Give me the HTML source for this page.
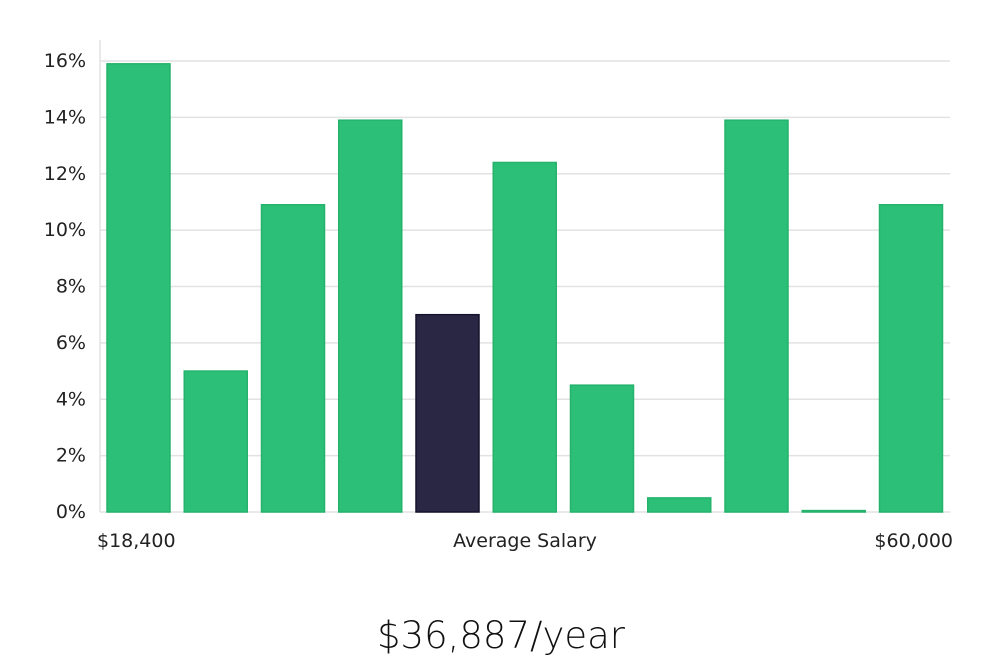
<!DOCTYPE html>
<html><head><meta charset="utf-8"><style>
body{margin:0;background:#fff;width:1000px;height:660px;overflow:hidden;font-family:"Liberation Sans","DejaVu Sans",sans-serif;}
svg text{font-family:"DejaVu Sans","Liberation Sans",sans-serif;}
</style></head><body>
<svg id="chart" width="1000" height="660" viewBox="0 0 1000 660" xmlns="http://www.w3.org/2000/svg"></svg>
<script>
const categories = ["b1","b2","b3","b4","b5","b6","b7","b8","b9","b10","b11"];
const values = [15.9, 5.0, 10.9, 13.9, 7.0, 12.4, 4.5, 0.5, 13.9, 0.05, 10.9];
const highlight = [false,false,false,false,true,false,false,false,false,false,false];
const yTicks = [0,2,4,6,8,10,12,14,16];
const yTickLabels = ["0%","2%","4%","6%","8%","10%","12%","14%","16%"];

const NS="http://www.w3.org/2000/svg";
const svg=document.getElementById('chart');
const y0=512, pxPerUnit=(512-61)/16;
function yScale(v){return y0 - v*pxPerUnit;}
function xScale(i){return 107 + i*77.25;}
const barW=63;
function mk(tag,attrs){const e=document.createElementNS(NS,tag);for(const k in attrs)e.setAttribute(k,attrs[k]);svg.appendChild(e);return e;}

const ax=mk('line',{x1:100,y1:40,x2:100,y2:512,stroke:'#e2e2e2','stroke-width':1.5});


yTicks.forEach((t,i)=>{
  const y=yScale(t);
  const g=mk('line',{x1:100,y1:y,x2:950,y2:y,stroke:'#e2e2e2','stroke-width':1.5});
  
  
  const tx=mk('text',{x:86,y:y+6,'text-anchor':'end','font-size':19,fill:'#222'});
  tx.textContent=yTickLabels[i];
  
  
});
values.forEach((v,i)=>{
  const y=yScale(v);
  const r=mk('rect',{x:xScale(i),y:y,width:barW,height:Math.max(1,y0-y),fill:highlight[i]?'#2a2745':'#2bbf77',stroke:highlight[i]?'#15132b':'#25b36c','stroke-width':1.5});
  
  
});
</script>
<svg style="position:absolute;left:0;top:0" width="1000" height="660">
<text x="97" y="547" font-size="19" fill="#222" font-family="DejaVu Sans, Liberation Sans, sans-serif">$18,400</text>
<text x="525" y="547" font-size="19" fill="#222" text-anchor="middle" font-family="DejaVu Sans, Liberation Sans, sans-serif">Average Salary</text>
<text x="953" y="547" font-size="19" fill="#222" text-anchor="end" font-family="DejaVu Sans, Liberation Sans, sans-serif">$60,000</text>
<text x="501" y="648" font-size="37" fill="#111" text-anchor="middle" font-family="DejaVu Sans, Liberation Sans, sans-serif" font-weight="300">$36,887/year</text>
</svg>
</body></html>
